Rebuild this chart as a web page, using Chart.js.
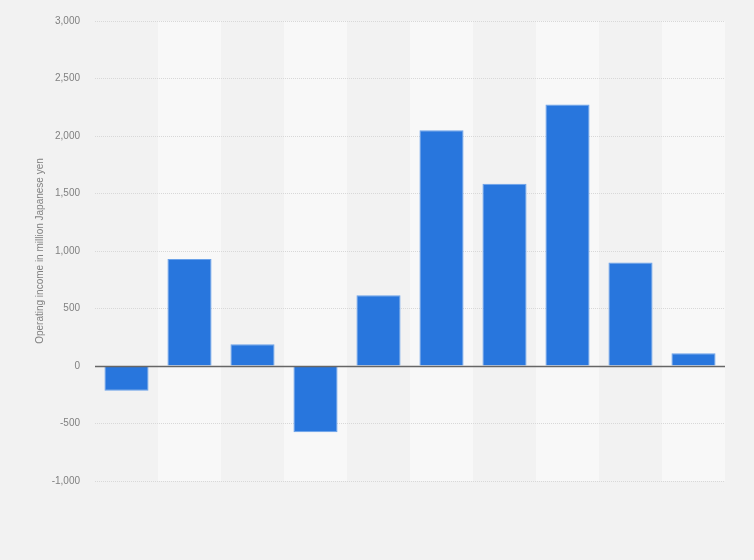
<!DOCTYPE html>
<html>
<head>
  <meta charset="utf-8">
  <title>Operating income</title>
  <script src="https://cdn.jsdelivr.net/npm/chart.js"></script>
  <style>
    html, body { margin: 0; padding: 0; background: #f2f2f2; }
    #wrap { width: 754px; height: 560px; }
  </style>
</head>
<body>
  <div id="wrap"><canvas id="chart"></canvas></div>
  <script>
    // Categories are not labelled in the picture
    const categories = ["1", "2", "3", "4", "5", "6", "7", "8", "9", "10"];
    const income = [-215, 930, 190, -575, 615, 2050, 1585, 2275, 900, 110];
    const yTicks = [-1000, -500, 0, 500, 1000, 1500, 2000, 2500, 3000];
    const yTitle = "Operating income in million Japanese yen";

    // Alternating column shading + zero line
    const stripes = {
      id: "stripes",
      beforeDraw(chart) {
        const { ctx, chartArea: a, scales: { x } } = chart;
        ctx.save();
        ctx.fillStyle = "#f2f2f2";
        ctx.fillRect(0, 0, chart.width, chart.height);
        const w = (a.right - a.left) / categories.length;
        ctx.fillStyle = "#f8f8f8";
        categories.forEach((c, i) => {
          if (i % 2 === 1) {
            const cx = x.getPixelForValue(i);
            ctx.fillRect(cx - w / 2, a.top, w, a.bottom - a.top);
          }
        });
        ctx.restore();
      },
      afterDatasetsDraw(chart) {
        const { ctx, chartArea: a, scales: { y } } = chart;
        const y0 = Math.round(y.getPixelForValue(0)) + 0.5;
        ctx.save();
        ctx.strokeStyle = "#666";
        ctx.lineWidth = 1.5;
        ctx.beginPath();
        ctx.moveTo(a.left, y0);
        ctx.lineTo(a.right, y0);
        ctx.stroke();
        ctx.restore();
      }
    };

    new Chart(document.getElementById("chart"), {
      type: "bar",
      data: {
        labels: categories,
        datasets: [{
          data: income,
          backgroundColor: "#2876dd",
          borderColor: "#6aa2ea",
          borderWidth: 1,
          barPercentage: 0.7,
          categoryPercentage: 1
        }]
      },
      options: {
        responsive: true,
        maintainAspectRatio: false,
        animation: false,
        layout: { padding: { top: 20, right: 29, bottom: 79, left: 0 } },
        plugins: { legend: { display: false }, tooltip: { enabled: false } },
        scales: {
          x: { display: false },
          y: {
            min: -1000,
            max: 3000,
            afterBuildTicks: (s) => { s.ticks = yTicks.map(v => ({ value: v })); },
            afterFit: (s) => { s.width = 95; },
            ticks: {
              color: "#808080",
              padding: 15,
              font: { family: "'Liberation Sans', Arial, sans-serif", size: 10 },
              callback: (v) => v.toLocaleString("en-US")
            },
            grid: {
              drawTicks: false,
              color: (c) => c.tick && c.tick.value === 0 ? "rgba(0,0,0,0)" : "#d8d8d8",
              lineWidth: 1
            },
            border: { display: false, dash: [1, 1] },
            title: {
              display: true,
              text: yTitle,
              color: "#808080",
              padding: { top: 34, bottom: 0 },
              font: { family: "'Liberation Sans', Arial, sans-serif", size: 10 }
            }
          }
        }
      },
      plugins: [stripes]
    });
  </script>
</body>
</html>
